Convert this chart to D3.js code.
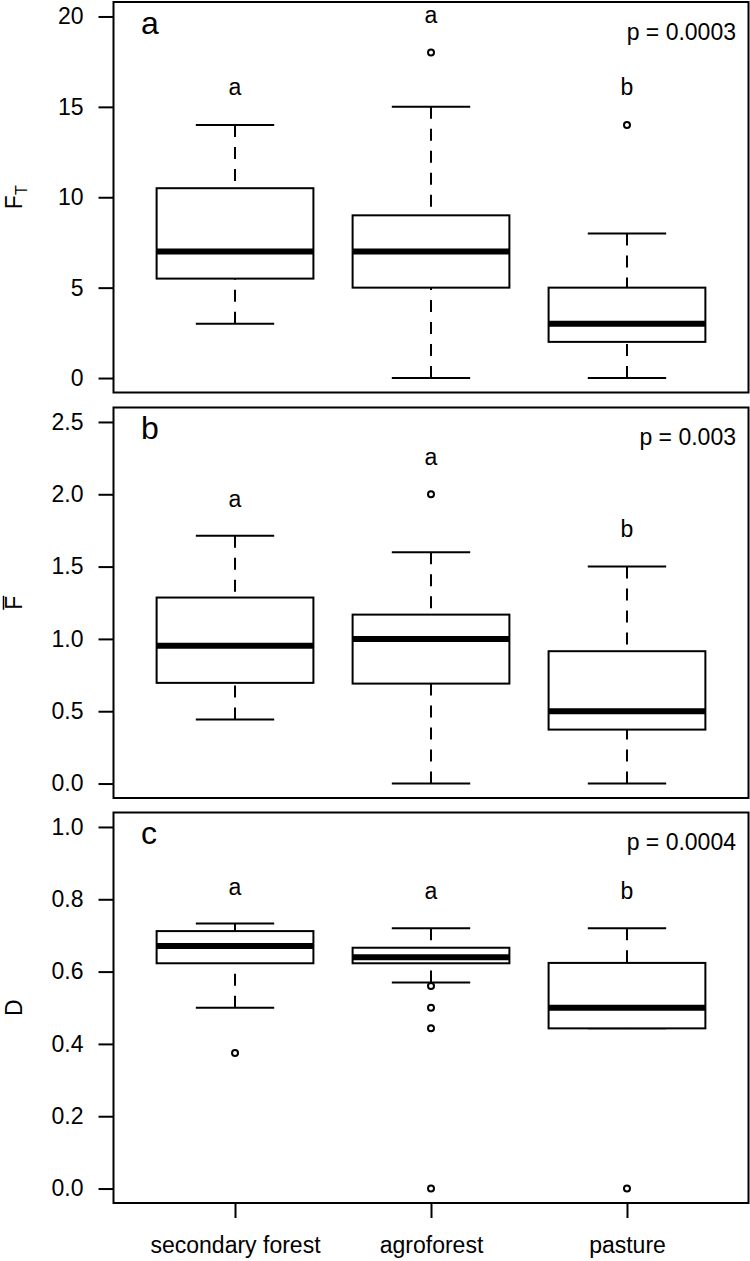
<!DOCTYPE html>
<html>
<head>
<meta charset="utf-8">
<script src="https://cdn.jsdelivr.net/npm/d3@7"></script>
<style>
  html, body { margin: 0; padding: 0; background: #fff; }
  svg { display: block; }
  text { font-family: "Liberation Sans", Arial, sans-serif; fill: #000; }
</style>
</head>
<body>
<svg id="chart" width="750" height="1261"></svg>
<script>
// ---------- data ----------
const categories = ["secondary forest", "agroforest", "pasture"];

// Panel a: F_T
const ftLow  = [3, 0, 0];
const ftQ1   = [5.5, 5, 2];
const ftMed  = [7, 7, 3];
const ftQ3   = [10.5, 9, 5];
const ftHigh = [14, 15, 8];
const ftOut  = [[], [18], [14]];
const ftLetters = ["a", "a", "b"];
const ftLetterY = [16, 20, 16];
const ftTicks = [0, 5, 10, 15, 20];

// Panel b: mean F
const fbLow  = [0.442, 0, 0];
const fbQ1   = [0.696, 0.691, 0.373];
const fbMed  = [0.952, 1.0, 0.5];
const fbQ3   = [1.286, 1.168, 0.915];
const fbHigh = [1.714, 1.6, 1.5];
const fbOut  = [[], [2.0], []];
const fbLetters = ["a", "a", "b"];
const fbLetterY = [1.96, 2.25, 1.75];
const fbTicks = [0, 0.5, 1.0, 1.5, 2.0, 2.5];

// Panel c: D
const dLow  = [0.5, 0.57, 0.443];
const dQ1   = [0.623, 0.623, 0.443];
const dMed  = [0.671, 0.640, 0.5];
const dQ3   = [0.712, 0.666, 0.624];
const dHigh = [0.733, 0.72, 0.72];
const dOut  = [[0.375], [0.56, 0.5, 0.443, 0], [0]];
const dLetters = ["a", "a", "b"];
const dLetterY = [0.83, 0.82, 0.82];
const dTicks = [0, 0.2, 0.4, 0.6, 0.8, 1.0];

const panels = [
  { tag: "a", p: "p = 0.0003", ylim: [0, 20], ticks: ftTicks, fmt: d3.format("d"),
    low: ftLow, q1: ftQ1, med: ftMed, q3: ftQ3, high: ftHigh, out: ftOut,
    letters: ftLetters, letterY: ftLetterY, ylab: "FT" },
  { tag: "b", p: "p = 0.003", ylim: [0, 2.5], ticks: fbTicks, fmt: d3.format(".1f"),
    low: fbLow, q1: fbQ1, med: fbMed, q3: fbQ3, high: fbHigh, out: fbOut,
    letters: fbLetters, letterY: fbLetterY, ylab: "Fbar" },
  { tag: "c", p: "p = 0.0004", ylim: [0, 1], ticks: dTicks, fmt: d3.format(".1f"),
    low: dLow, q1: dQ1, med: dMed, q3: dQ3, high: dHigh, out: dOut,
    letters: dLetters, letterY: dLetterY, ylab: "D" }
];

// ---------- layout ----------
const svg = d3.select("#chart");
const left = 113.5, right = 748.5;
const tops = [2, 407.5, 812.5];
const ph = 390.5;
const fs = 23;
const lw = 2;

const x = d3.scaleLinear().domain([0.38, 3.62]).range([left, right]);
const boxHalf = (x(1.4) - x(1));   // box width 0.8 units
const capHalf = (x(1.2) - x(1));   // staple width 0.4 units

panels.forEach((P, pi) => {
  const top = tops[pi], bottom = top + ph;
  const ext = (P.ylim[1] - P.ylim[0]) * 0.04;
  const y = d3.scaleLinear().domain([P.ylim[0] - ext, P.ylim[1] + ext]).range([bottom, top]);
  const g = svg.append("g");

  // y axis
  const yAxis = d3.axisLeft(y).tickValues(P.ticks).tickFormat(P.fmt).tickSize(15).tickPadding(15);
  const ga = g.append("g").attr("transform", `translate(${left},0)`).call(yAxis);
  ga.select(".domain").remove();
  ga.selectAll(".tick line").attr("stroke", "#000").attr("stroke-width", lw);
  ga.selectAll(".tick text").attr("font-size", fs).attr("font-family", "Liberation Sans, Arial, sans-serif").attr("fill", "#000");

  // boxes
  categories.forEach((c, i) => {
    const cx = x(i + 1);
    // whiskers (drawn from whisker end toward box, dashed)
    g.append("line").attr("x1", cx).attr("x2", cx).attr("y1", y(P.high[i])).attr("y2", y(P.q3[i]))
      .attr("stroke", "#000").attr("stroke-width", lw).attr("stroke-dasharray", "12,10");
    g.append("line").attr("x1", cx).attr("x2", cx).attr("y1", y(P.low[i])).attr("y2", y(P.q1[i]))
      .attr("stroke", "#000").attr("stroke-width", lw).attr("stroke-dasharray", "12,10");
    // staples
    [P.high[i], P.low[i]].forEach(v => {
      g.append("line").attr("x1", cx - capHalf).attr("x2", cx + capHalf).attr("y1", y(v)).attr("y2", y(v))
        .attr("stroke", "#000").attr("stroke-width", lw);
    });
    // box
    g.append("rect").attr("x", cx - boxHalf).attr("width", 2 * boxHalf)
      .attr("y", y(P.q3[i])).attr("height", y(P.q1[i]) - y(P.q3[i]))
      .attr("fill", "#fff").attr("stroke", "#000").attr("stroke-width", lw);
    // median
    g.append("line").attr("x1", cx - boxHalf).attr("x2", cx + boxHalf).attr("y1", y(P.med[i])).attr("y2", y(P.med[i]))
      .attr("stroke", "#000").attr("stroke-width", 6);
    // outliers
    P.out[i].forEach(v => {
      g.append("circle").attr("cx", cx).attr("cy", y(v)).attr("r", 3)
        .attr("fill", "none").attr("stroke", "#000").attr("stroke-width", lw);
    });
    // significance letters
    g.append("text").attr("x", cx).attr("y", y(P.letterY[i]) + 6.5).attr("text-anchor", "middle")
      .attr("font-size", fs).text(P.letters[i]);
  });

  // frame
  g.append("rect").attr("x", left).attr("y", top).attr("width", right - left).attr("height", ph)
    .attr("fill", "none").attr("stroke", "#000").attr("stroke-width", lw);

  // panel tag and p-value
  g.append("text").attr("x", 141).attr("y", top + 31.5).attr("font-size", 32).text(P.tag);
  g.append("text").attr("x", 736).attr("y", top + 37.5).attr("text-anchor", "end").attr("font-size", fs).text(P.p);

  // y label
  const cy = (top + bottom) / 2;
  const lab = g.append("text").attr("transform", `translate(22,${cy}) rotate(-90)`)
    .attr("text-anchor", "middle").attr("font-size", fs);
  if (P.ylab === "FT") {
    lab.append("tspan").text("F");
    lab.append("tspan").attr("font-size", 16).attr("dy", 5).text("T");
  } else if (P.ylab === "Fbar") {
    lab.text("F");
    g.append("line").attr("x1", 3.5).attr("x2", 3.5).attr("y1", cy - 7).attr("y2", cy + 7)
      .attr("stroke", "#000").attr("stroke-width", 1.5);
  } else {
    lab.text(P.ylab);
  }

  // x axis on bottom panel
  if (pi === 2) {
    const xAxis = d3.axisBottom(x).tickValues([1, 2, 3]).tickFormat((d) => categories[d - 1])
      .tickSize(15).tickPadding(19);
    const gx = g.append("g").attr("transform", `translate(0,${bottom})`).call(xAxis);
    gx.select(".domain").remove();
    gx.selectAll(".tick line").attr("stroke", "#000").attr("stroke-width", lw);
    gx.selectAll(".tick text").attr("font-size", fs).attr("font-family", "Liberation Sans, Arial, sans-serif").attr("fill", "#000");
  }
});
</script>
</body>
</html>
